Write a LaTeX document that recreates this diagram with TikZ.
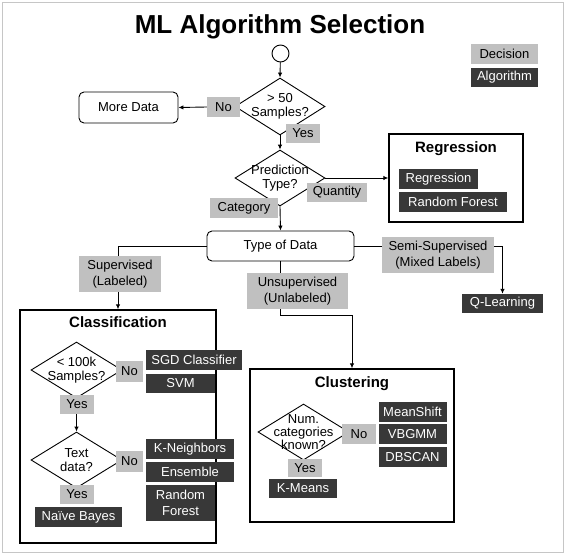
\documentclass[tikz,border=0pt]{standalone}
\usepackage{fontspec}
\setmainfont{Liberation Sans}
\usetikzlibrary{shapes.geometric,arrows.meta}
\definecolor{lg}{HTML}{C0C0C0}
\definecolor{dk}{HTML}{383838}
\begin{document}
\begin{tikzpicture}[x=1pt,y=-1pt,
  every node/.style={inner sep=0pt, font=\fontsize{13}{16}\selectfont},
  sz/.style 2 args={minimum width=#1pt, minimum height=#2pt},
  lbl/.style={fill=lg, align=center},
  alg/.style={fill=dk, text=white, align=center},
  dec/.style={diamond, draw, line width=0.9pt},
  dtxt/.style={align=center, font=\fontsize{13}{14}\selectfont},
  grp/.style={draw, line width=1.4pt},
  rbox/.style={draw, rounded corners=5pt, line width=0.9pt},
  gtitle/.style={font=\fontsize{15}{18}\selectfont\bfseries, anchor=base},
  conn/.style={line width=0.9pt},
  arr/.style={conn, -{Latex[length=5pt,width=4.5pt]}}]
\useasboundingbox (0,0) rectangle (566,555);
\fill[white] (0,0) rectangle (566,555);
\draw[gray!45, line width=1pt] (2.5,2.5) rectangle (563,552.5);

% title and legend
\node[font=\fontsize{26}{30}\selectfont\bfseries, anchor=base] (title) at (280,33) {ML Algorithm Selection};
\node[lbl, sz={67}{20}] (legdec) at (504.5,54) {Decision};
\node[alg, sz={67}{19}] (legalg) at (504.5,77.5) {Algorithm};

% top flow
\node[circle, draw, line width=0.9pt, minimum size=17pt] (start) at (280.5,53.5) {};
\node[dec, sz={90}{57}] (d1) at (280,106.5) {};
\node[dtxt] (d1t) at (d1.center) {> 50\\Samples?};
\node[rbox, sz={99}{31}] (more) at (128.5,107.5) {More Data};
\node[dec, sz={90}{56}] (d2) at (280,178) {};
\node[dtxt] (d2t) at (d2.center) {Prediction\\Type?};

% regression group
\node[grp, sz={134}{88}] (reg) at (456,178) {};
\node[gtitle] (regt) at (456,152) {Regression};
\node[alg, sz={79}{20}] (reg1) at (438.5,179) {Regression};
\node[alg, sz={108}{20}] (reg2) at (453,202) {Random Forest};

% type of data
\node[rbox, sz={147}{30}] (tod) at (280.5,246) {Type of Data};
\node[alg, sz={81}{19}] (ql) at (502.5,303.5) {Q-Learning};

% classification group
\node[grp, sz={196}{233}] (cls) at (118,426.5) {};
\node[gtitle] (clst) at (118,327) {Classification};
\node[dec, sz={91}{56}] (c1) at (76.5,370) {};
\node[dtxt] (c1t) at (c1.center) {< 100k\\Samples?};
\node[dec, sz={91}{56}] (c2) at (76.5,460) {};
\node[dtxt] (c2t) at (c2.center) {Text\\data?};

% clustering group
\node[grp, sz={204}{153}] (clu) at (352,445.5) {};
\node[gtitle] (clut) at (352,387) {Clustering};
\node[dec, sz={91}{56}] (k1) at (303.5,432) {};
\node[dtxt, font=\fontsize{13}{13}\selectfont] (k1t) at (k1.center) {Num.\\categories\\known?};

% connectors
\draw[arr] (start) -- (d1.north);
\draw[arr] (d1.west) -- (more.east);
\draw[arr] (d1.south) -- (d2.north);
\draw[arr] (d2.east) -- (reg.west);
\draw[arr] (d2.south) -- (tod.north);
\draw[arr] (tod.west) -| (cls.north);
\draw[arr] (tod.south) -- ++(0,54) -| (clu.north);
\draw[arr] (tod.east) -| (ql.north);
\draw[arr] (c1.south) -- (c2.north);

% decision labels
\node[lbl, sz={33}{20}] (d1no) at (223.5,107) {No};
\node[lbl, sz={34}{19}] (d1yes) at (303,133.5) {Yes};
\node[lbl, sz={60}{19}] (d2q) at (337,192.5) {Quantity};
\node[lbl, sz={68}{20}] (d2c) at (244,208) {Category};
\node[lbl, sz={82}{36}] (sup) at (120,274) {Supervised\\(Labeled)};
\node[lbl, sz={101}{36}] (uns) at (297.5,291) {Unsupervised\\(Unlabeled)};
\node[lbl, sz={112}{36}] (semi) at (438,255) {Semi-Supervised\\(Mixed Labels)};

% classification contents
\node[lbl, sz={27}{21}] (c1no) at (129.5,371.5) {No};
\node[alg, sz={96}{20}] (sgd) at (194,360) {SGD Classifier};
\node[alg, sz={69}{19}] (svm) at (180.5,383.5) {SVM};
\node[lbl, sz={34}{19}] (c1yes) at (77,404.5) {Yes};
\node[lbl, sz={27}{21}] (c2no) at (129.5,461.5) {No};
\node[alg, sz={88}{20}] (knn) at (190,449) {K-Neighbors};
\node[alg, sz={88}{20}] (ens) at (190,472) {Ensemble};
\node[alg, sz={69}{36}] (rfc) at (180.5,503) {Random\\Forest};
\node[lbl, sz={34}{19}] (c2yes) at (77,494.5) {Yes};
\node[alg, sz={87}{20}] (nb) at (78.5,517) {Naïve Bayes};

% clustering contents
\node[lbl, sz={34}{20}] (k1no) at (359,434) {No};
\node[alg, sz={68}{20}] (ms) at (412.5,412) {MeanShift};
\node[alg, sz={68}{20}] (vb) at (412.5,434) {VBGMM};
\node[alg, sz={68}{20}] (db) at (412.5,457) {DBSCAN};
\node[lbl, sz={34}{18}] (k1yes) at (305,468) {Yes};
\node[alg, sz={68}{19}] (km) at (303,488.5) {K-Means};
\end{tikzpicture}
\end{document}
